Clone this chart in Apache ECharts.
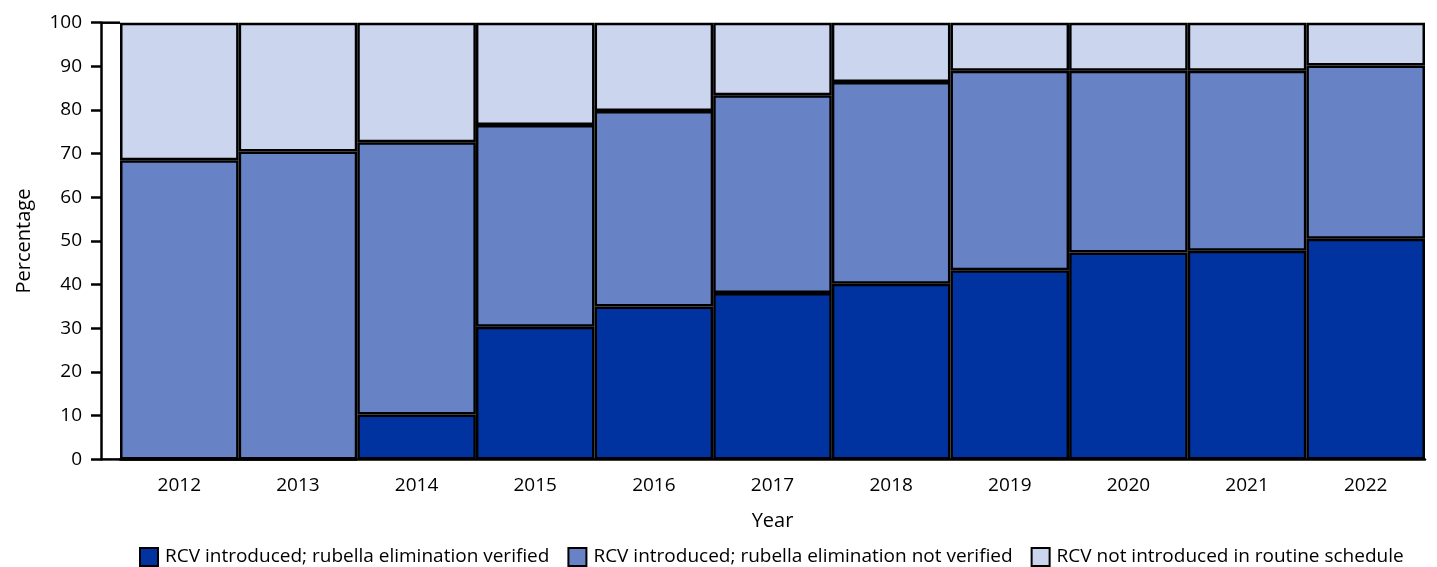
<!DOCTYPE html>
<html>
<head>
<meta charset="utf-8">
<script src="https://cdn.jsdelivr.net/npm/echarts@6/dist/echarts.min.js"></script>
<style>
html,body{margin:0;padding:0;background:#fff;}
#chart{width:1437px;height:567px;}
</style>
</head>
<body>
<div id="chart"></div>
<script>
const years = ['2012','2013','2014','2015','2016','2017','2018','2019','2020','2021','2022'];
// cumulative percentages
const verified = [0, 0, 10.3, 30.4, 35.0, 38.1, 40.2, 43.3, 47.4, 47.8, 50.5];
const introducedTotal = [68.5, 70.5, 72.6, 76.6, 79.8, 83.4, 86.4, 89.0, 89.0, 89.0, 90.2];
const yTicks = [0, 10, 20, 30, 40, 50, 60, 70, 80, 90, 100];
const seriesNames = [
  'RCV introduced; rubella elimination verified',
  'RCV introduced; rubella elimination not verified',
  'RCV not introduced in routine schedule'
];

const notVerified = introducedTotal.map((t, i) => +(t - verified[i]).toFixed(1));
const notIntroduced = introducedTotal.map(t => +(100 - t).toFixed(1));

const colors = ['#0033a0', '#6783c5', '#cbd5ee'];
const FONT = '"Open Sans", sans-serif';

const chart = echarts.init(document.getElementById('chart'), null, {renderer: 'canvas'});
const gridLeft = 120, gridRight = 12, gridTop = 22.7, gridBottom = 107.6;
const yAxisOffset = 19;

const mkSeries = (name, data, color) => ({
  name, type: 'bar', stack: 'total', data,
  barCategoryGap: 0,
  itemStyle: {color, borderColor: '#000', borderWidth: 2.5},
  emphasis: {disabled: true}
});

chart.setOption({
  animation: false,
  textStyle: {fontFamily: FONT},
  grid: {left: gridLeft, right: gridRight, top: gridTop, bottom: gridBottom, containLabel: false},
  xAxis: {
    type: 'category', data: years,
    name: 'Year', nameLocation: 'middle', nameGap: 52,
    nameTextStyle: {fontSize: 20, color: '#000', fontFamily: FONT},
    axisLine: {lineStyle: {color: '#000', width: 2.5}},
    axisTick: {alignWithLabel: true, length: 10, lineStyle: {color: '#000', width: 2.5}},
    axisLabel: {fontSize: 19, color: '#000', margin: 17, fontFamily: FONT}
  },
  yAxis: {
    type: 'value', min: 0, max: 100, interval: 10,
    offset: yAxisOffset,
    name: 'Percentage', nameLocation: 'middle', nameGap: 67, nameRotate: 90,
    nameTextStyle: {fontSize: 20, color: '#000', fontFamily: FONT},
    axisLine: {show: true, lineStyle: {color: '#000', width: 2.5}},
    axisTick: {show: true, length: 10, lineStyle: {color: '#000', width: 2.5}},
    axisLabel: {fontSize: 19, color: '#000', margin: 19, fontFamily: FONT,
      formatter: v => yTicks.includes(v) ? String(v) : ''},
    splitLine: {show: false}
  },
  legend: {
    bottom: -5, left: 134,
    itemWidth: 18, itemHeight: 18, itemGap: 18,
    icon: 'rect',
    itemStyle: {borderColor: '#000', borderWidth: 2},
    textStyle: {fontSize: 19, color: '#000', fontFamily: FONT, padding: [0, 0, 0, 2]},
    data: seriesNames
  },
  graphic: [
    {type: 'line', shape: {x1: gridLeft - yAxisOffset, y1: 567 - gridBottom, x2: gridLeft, y2: 567 - gridBottom},
     style: {stroke: '#000', lineWidth: 2.5}, silent: true},
    {type: 'line', shape: {x1: gridLeft - yAxisOffset, y1: gridTop, x2: gridLeft, y2: gridTop},
     style: {stroke: '#000', lineWidth: 2.5}, silent: true}
  ],
  series: [
    mkSeries(seriesNames[0], verified, colors[0]),
    mkSeries(seriesNames[1], notVerified, colors[1]),
    mkSeries(seriesNames[2], notIntroduced, colors[2])
  ]
});
</script>
</body>
</html>
